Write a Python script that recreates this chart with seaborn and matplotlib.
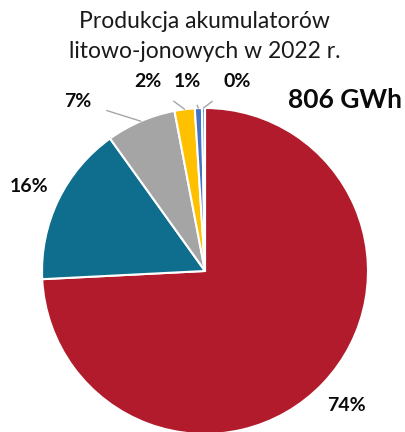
import matplotlib
matplotlib.use("Agg")
import matplotlib.pyplot as plt
import numpy as np
import seaborn as sns

# data (share of 806 GWh, %)
shares = [74.2, 15.9, 6.9, 2.0, 0.7, 0.3]
labels = ["74%", "16%", "7%", "2%", "1%", "0%"]
colors = ["#B11B2C", "#0F6E8E", "#A5A5A5", "#FFC000", "#4472C4", "#5B9BD5"]
title = "Produkcja akumulatorów\nlitowo-jonowych w 2022 r."
total_label = "806 GWh"

sns.set_theme(style="white")
plt.rcParams["font.family"] = ["Lato", "DejaVu Sans"]

fig = plt.figure(figsize=(4.05, 4.32), dpi=100)
ax = fig.add_axes([0.1037, -0.0046, 0.805, 0.7546])

wedges, _ = ax.pie(shares, colors=colors, startangle=90, counterclock=False,
                   wedgeprops=dict(edgecolor="white", linewidth=1.5))
ax.set_xlim(-1, 1)
ax.set_ylim(-1, 1)
ax.set_aspect("equal")
ax.axis("off")

lab_kw = dict(fontsize=14, fontweight="bold", color="#0A0A0A")

# big slices: labels outside along the wedge bisector
for w, lab in zip(wedges[:2], labels[:2]):
    ang = np.deg2rad((w.theta1 + w.theta2) / 2)
    ax.text(1.2 * np.cos(ang), 1.2 * np.sin(ang), lab, ha="center", va="center", **lab_kw)

# small slices: labels above with leader lines
text_pos = [(-0.78, 1.04), (-0.35, 1.16), (-0.11, 1.16), (0.2, 1.16)]
for w, lab, (tx, ty) in zip(wedges[2:], labels[2:], text_pos):
    ang = np.deg2rad((w.theta1 + w.theta2) / 2)
    ax.annotate(lab, xy=(np.cos(ang), np.sin(ang)), xytext=(tx, ty),
                ha="center", va="center", annotation_clip=False,
                arrowprops=dict(arrowstyle="-", color="#A6A6A6", lw=1,
                                shrinkA=9, shrinkB=0),
                **lab_kw)

ax.text(0.86, 1.05, total_label, ha="center", va="center",
        fontsize=19, fontweight="bold", color="#0A0A0A")
fig.text(0.506, 0.915, title, ha="center", va="center", fontsize=16.5,
         color="#1A1A1A", linespacing=1.5)

fig.savefig("out.png", dpi=100)
